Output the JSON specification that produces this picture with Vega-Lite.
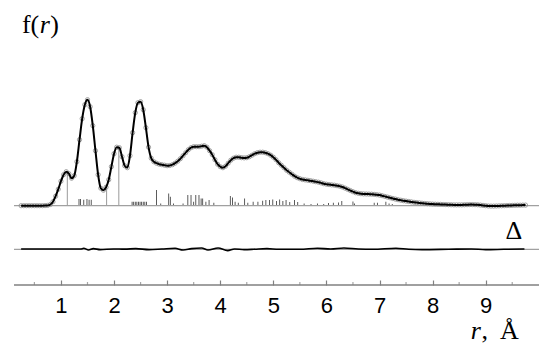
{
  "$schema": "https://vega.github.io/schema/vega-lite/v6.json",
  "width": 525,
  "height": 285,
  "autosize": {"type": "none"},
  "padding": {"left": 14, "right": 11, "top": 0, "bottom": 66},
  "background": "white",
  "config": {"view": {"stroke": null}},
  "datasets": {
    "pdf": [
      {"r":0.25,"f":0},{"r":0.30,"f":0},{"r":0.35,"f":0},{"r":0.40,"f":0},{"r":0.45,"f":0},{"r":0.50,"f":0},{"r":0.55,"f":0},{"r":0.60,"f":0},{"r":0.65,"f":0},{"r":0.70,"f":0.001},{"r":0.75,"f":0.003},{"r":0.80,"f":0.012},{"r":0.85,"f":0.04},{"r":0.90,"f":0.095},{"r":0.95,"f":0.165},{"r":1.00,"f":0.245},{"r":1.05,"f":0.31},{"r":1.10,"f":0.34},{"r":1.15,"f":0.32},{"r":1.20,"f":0.275},{"r":1.25,"f":0.30},{"r":1.30,"f":0.44},{"r":1.35,"f":0.66},{"r":1.40,"f":0.87},{"r":1.45,"f":1.01},{"r":1.50,"f":1.06},{"r":1.55,"f":0.99},{"r":1.60,"f":0.80},{"r":1.65,"f":0.55},{"r":1.70,"f":0.31},{"r":1.75,"f":0.175},{"r":1.80,"f":0.155},{"r":1.85,"f":0.185},{"r":1.90,"f":0.26},{"r":1.95,"f":0.39},{"r":2.00,"f":0.52},{"r":2.05,"f":0.585},{"r":2.10,"f":0.58},{"r":2.15,"f":0.49},{"r":2.20,"f":0.40},{"r":2.25,"f":0.38},{"r":2.30,"f":0.50},{"r":2.35,"f":0.73},{"r":2.40,"f":0.93},{"r":2.45,"f":1.03},{"r":2.50,"f":1.04},{"r":2.55,"f":0.96},{"r":2.60,"f":0.78},{"r":2.65,"f":0.585},{"r":2.70,"f":0.475},{"r":2.75,"f":0.44},{"r":2.80,"f":0.425},{"r":2.85,"f":0.415},{"r":2.90,"f":0.41},{"r":2.95,"f":0.405},{"r":3.00,"f":0.40},{"r":3.05,"f":0.402},{"r":3.10,"f":0.41},{"r":3.15,"f":0.425},{"r":3.20,"f":0.445},{"r":3.25,"f":0.47},{"r":3.30,"f":0.50},{"r":3.35,"f":0.53},{"r":3.40,"f":0.56},{"r":3.45,"f":0.58},{"r":3.50,"f":0.59},{"r":3.55,"f":0.59},{"r":3.60,"f":0.59},{"r":3.65,"f":0.595},{"r":3.70,"f":0.60},{"r":3.75,"f":0.585},{"r":3.80,"f":0.55},{"r":3.85,"f":0.51},{"r":3.90,"f":0.46},{"r":3.95,"f":0.415},{"r":4.00,"f":0.39},{"r":4.05,"f":0.38},{"r":4.10,"f":0.395},{"r":4.15,"f":0.425},{"r":4.20,"f":0.455},{"r":4.25,"f":0.475},{"r":4.30,"f":0.485},{"r":4.35,"f":0.485},{"r":4.40,"f":0.48},{"r":4.45,"f":0.478},{"r":4.50,"f":0.48},{"r":4.55,"f":0.49},{"r":4.60,"f":0.505},{"r":4.65,"f":0.52},{"r":4.70,"f":0.53},{"r":4.75,"f":0.535},{"r":4.80,"f":0.535},{"r":4.85,"f":0.53},{"r":4.90,"f":0.52},{"r":4.95,"f":0.505},{"r":5.00,"f":0.485},{"r":5.05,"f":0.46},{"r":5.10,"f":0.43},{"r":5.15,"f":0.405},{"r":5.20,"f":0.38},{"r":5.25,"f":0.355},{"r":5.30,"f":0.335},{"r":5.35,"f":0.315},{"r":5.40,"f":0.295},{"r":5.45,"f":0.28},{"r":5.50,"f":0.27},{"r":5.55,"f":0.262},{"r":5.60,"f":0.258},{"r":5.65,"f":0.254},{"r":5.70,"f":0.25},{"r":5.75,"f":0.245},{"r":5.80,"f":0.24},{"r":5.85,"f":0.235},{"r":5.90,"f":0.228},{"r":5.95,"f":0.22},{"r":6.00,"f":0.215},{"r":6.05,"f":0.211},{"r":6.10,"f":0.208},{"r":6.15,"f":0.205},{"r":6.20,"f":0.2},{"r":6.25,"f":0.195},{"r":6.30,"f":0.187},{"r":6.35,"f":0.176},{"r":6.40,"f":0.164},{"r":6.45,"f":0.152},{"r":6.50,"f":0.14},{"r":6.55,"f":0.13},{"r":6.60,"f":0.124},{"r":6.65,"f":0.12},{"r":6.70,"f":0.118},{"r":6.75,"f":0.117},{"r":6.80,"f":0.116},{"r":6.85,"f":0.115},{"r":6.90,"f":0.113},{"r":6.95,"f":0.11},{"r":7.00,"f":0.106},{"r":7.05,"f":0.1},{"r":7.10,"f":0.093},{"r":7.15,"f":0.086},{"r":7.20,"f":0.079},{"r":7.25,"f":0.072},{"r":7.30,"f":0.066},{"r":7.35,"f":0.06},{"r":7.40,"f":0.055},{"r":7.45,"f":0.05},{"r":7.50,"f":0.046},{"r":7.55,"f":0.042},{"r":7.60,"f":0.038},{"r":7.65,"f":0.034},{"r":7.70,"f":0.031},{"r":7.75,"f":0.028},{"r":7.80,"f":0.025},{"r":7.85,"f":0.022},{"r":7.90,"f":0.02},{"r":7.95,"f":0.018},{"r":8.00,"f":0.016},{"r":8.05,"f":0.015},{"r":8.10,"f":0.014},{"r":8.15,"f":0.013},{"r":8.20,"f":0.012},{"r":8.25,"f":0.011},{"r":8.30,"f":0.01},{"r":8.35,"f":0.009},{"r":8.40,"f":0.008},{"r":8.45,"f":0.008},{"r":8.50,"f":0.008},{"r":8.55,"f":0.008},{"r":8.60,"f":0.009},{"r":8.65,"f":0.01},{"r":8.70,"f":0.011},{"r":8.75,"f":0.011},{"r":8.80,"f":0.01},{"r":8.85,"f":0.009},{"r":8.90,"f":0.006},{"r":8.95,"f":0.003},{"r":9.00,"f":0.0},{"r":9.05,"f":-0.003},{"r":9.10,"f":-0.004},{"r":9.15,"f":-0.004},{"r":9.20,"f":-0.003},{"r":9.25,"f":-0.002},{"r":9.30,"f":-0.001},{"r":9.35,"f":0},{"r":9.40,"f":0.001},{"r":9.45,"f":0.002},{"r":9.50,"f":0.003},{"r":9.55,"f":0.004},{"r":9.60,"f":0.005},{"r":9.65,"f":0.005},{"r":9.70,"f":0.006},{"r":9.75,"f":0.006}
    ],
    "sticksMajor": [
      {"r":1.12,"h":0.33},{"r":1.86,"h":0.17},{"r":2.09,"h":0.59}
    ],
    "sticksMinor": [
      {"r":1.34,"h":0.067},{"r":1.37,"h":0.067},{"r":1.43,"h":0.06},{"r":1.49,"h":0.067},{"r":1.53,"h":0.06},{"r":1.57,"h":0.06},
      {"r":2.34,"h":0.04},{"r":2.37,"h":0.04},{"r":2.40,"h":0.04},{"r":2.43,"h":0.04},{"r":2.46,"h":0.04},{"r":2.49,"h":0.04},{"r":2.52,"h":0.04},{"r":2.55,"h":0.04},{"r":2.58,"h":0.04},{"r":2.61,"h":0.04},
      {"r":2.80,"h":0.157},{"r":2.88,"h":0.023},{"r":3.03,"h":0.123},{"r":3.06,"h":0.09},{"r":3.12,"h":0.023},{"r":3.30,"h":0.023},{"r":3.39,"h":0.107},{"r":3.45,"h":0.107},{"r":3.50,"h":0.04},{"r":3.54,"h":0.107},{"r":3.60,"h":0.107},{"r":3.64,"h":0.073},{"r":3.67,"h":0.073},{"r":3.73,"h":0.04},{"r":3.79,"h":0.057},{"r":3.88,"h":0.03},
      {"r":4.19,"h":0.097},{"r":4.23,"h":0.083},{"r":4.28,"h":0.04},{"r":4.34,"h":0.03},{"r":4.46,"h":0.073},{"r":4.52,"h":0.03},{"r":4.62,"h":0.04},{"r":4.71,"h":0.04},{"r":4.80,"h":0.05},{"r":4.86,"h":0.057},{"r":4.93,"h":0.057},{"r":4.99,"h":0.063},
      {"r":5.06,"h":0.047},{"r":5.12,"h":0.063},{"r":5.18,"h":0.047},{"r":5.24,"h":0.057},{"r":5.31,"h":0.037},{"r":5.40,"h":0.057},{"r":5.46,"h":0.037},{"r":5.58,"h":0.023},{"r":5.71,"h":0.017},{"r":5.83,"h":0.023},{"r":5.95,"h":0.017},{"r":6.04,"h":0.027},{"r":6.13,"h":0.03},{"r":6.23,"h":0.033},{"r":6.29,"h":0.047},{"r":6.50,"h":0.043},{"r":6.53,"h":0.023},{"r":6.90,"h":0.03},{"r":6.96,"h":0.03},{"r":7.12,"h":0.04},{"r":7.18,"h":0.023},{"r":7.24,"h":0.017}
    ],
    "diff": [
      {"r":0.25,"d":0.003},{"r":0.8,"d":0.003},{"r":1.37,"d":0.003},{"r":1.43,"d":0.01},{"r":1.52,"d":-0.007},{"r":1.61,"d":0.007},{"r":1.74,"d":-0.003},{"r":1.99,"d":0.003},{"r":2.2,"d":0.002},{"r":2.41,"d":0.007},{"r":2.66,"d":-0.003},{"r":2.90,"d":0.003},{"r":3.15,"d":0.01},{"r":3.30,"d":-0.007},{"r":3.46,"d":0.007},{"r":3.65,"d":0.013},{"r":3.77,"d":-0.007},{"r":3.96,"d":0.013},{"r":4.14,"d":-0.013},{"r":4.27,"d":0.003},{"r":4.45,"d":-0.003},{"r":4.63,"d":0.0},{"r":4.88,"d":0.007},{"r":5.1,"d":0.0},{"r":5.5,"d":0.0},{"r":5.83,"d":0.01},{"r":6.08,"d":0.003},{"r":6.33,"d":0.013},{"r":6.6,"d":0.003},{"r":6.88,"d":0.0},{"r":7.31,"d":0.01},{"r":7.55,"d":0.0},{"r":7.8,"d":-0.003},{"r":8.3,"d":0.0},{"r":8.73,"d":0.003},{"r":9.0,"d":-0.003},{"r":9.34,"d":0.0},{"r":9.73,"d":0.003}
    ],
    "minorTicks": [
      {"r":0.5,"base":-0.793},{"r":1.5,"base":-0.793},{"r":2.5,"base":-0.793},{"r":3.5,"base":-0.793},{"r":4.5,"base":-0.793},{"r":5.5,"base":-0.793},{"r":6.5,"base":-0.793},{"r":7.5,"base":-0.793},{"r":8.5,"base":-0.793},{"r":9.5,"base":-0.793}
    ],
    "labels": [
      {"r": 0.265, "f": 1.724, "t": "f("},
      {"r": 0.80, "f": 1.724, "t": ")"},
      {"r": 9.375, "f": -0.333, "t": "Δ"},
      {"r": 8.92, "f": -1.33, "t": ","},
      {"r": 9.27, "f": -1.33, "t": "Å"}
    ],
    "italicLabels": [
      {"r": 0.60, "f": 1.724, "t": "r"},
      {"r": 8.72, "f": -1.33, "t": "r"}
    ]
  },
  "layer": [
    {
      "data": {"name": "sticksMajor"},
      "mark": {"type": "bar", "color": "#9a9a9a", "width": 1},
      "encoding": {
        "x": {"field": "r", "type": "quantitative", "scale": {"domain": [0.21, 9.91], "nice": false, "zero": false},
          "axis": {"values": [1,2,3,4,5,6,7,8,9], "format": "d", "title": null, "grid": false, "domain": false, "offset": -5, "tickColor": "#808080", "tickWidth": 1.2, "tickSize": 5,
            "labelFont": "Liberation Sans", "labelFontSize": 22, "labelColor": "#000000", "labelPadding": 10, "labelOverlap": false}},
        "y": {"field": "h", "type": "quantitative", "scale": {"domain": [-0.793, 2.057], "nice": false, "zero": false}, "axis": null}
      }
    },
    {
      "data": {"name": "sticksMinor"},
      "mark": {"type": "bar", "color": "#333333", "width": 0.8},
      "encoding": {
        "x": {"field": "r", "type": "quantitative", "scale": {"domain": [0.21, 9.91], "nice": false, "zero": false}},
        "y": {"field": "h", "type": "quantitative", "scale": {"domain": [-0.793, 2.057], "nice": false, "zero": false}}
      }
    },
    {
      "data": {"values": [{"base": 0}, {"base": -0.436}]},
      "mark": {"type": "rule", "color": "#a0a0a0", "strokeWidth": 1.3},
      "encoding": {"y": {"field": "base", "type": "quantitative", "scale": {"domain": [-0.793, 2.057], "nice": false, "zero": false}}}
    },
    {
      "data": {"values": [{"base": -0.793}]},
      "mark": {"type": "rule", "color": "#808080", "strokeWidth": 1.5},
      "encoding": {"y": {"field": "base", "type": "quantitative", "scale": {"domain": [-0.793, 2.057], "nice": false, "zero": false}}}
    },
    {
      "data": {"name": "minorTicks"},
      "mark": {"type": "tick", "orient": "vertical", "color": "#808080", "size": 3, "thickness": 1.2, "yOffset": -1.5},
      "encoding": {
        "x": {"field": "r", "type": "quantitative", "scale": {"domain": [0.21, 9.91], "nice": false, "zero": false}},
        "y": {"field": "base", "type": "quantitative", "scale": {"domain": [-0.793, 2.057], "nice": false, "zero": false}}
      }
    },
    {
      "data": {"name": "pdf"},
      "mark": {"type": "point", "shape": "circle", "filled": false, "size": 18, "stroke": "#8a8a8a", "strokeWidth": 0.8, "opacity": 1},
      "encoding": {
        "x": {"field": "r", "type": "quantitative", "scale": {"domain": [0.21, 9.91], "nice": false, "zero": false}},
        "y": {"field": "f", "type": "quantitative", "scale": {"domain": [-0.793, 2.057], "nice": false, "zero": false}}
      }
    },
    {
      "data": {"name": "pdf"},
      "mark": {"type": "line", "color": "#000000", "strokeWidth": 2, "interpolate": "monotone"},
      "encoding": {
        "x": {"field": "r", "type": "quantitative", "scale": {"domain": [0.21, 9.91], "nice": false, "zero": false}},
        "y": {"field": "f", "type": "quantitative", "scale": {"domain": [-0.793, 2.057], "nice": false, "zero": false}}
      }
    },
    {
      "data": {"name": "diff"},
      "mark": {"type": "line", "color": "#000000", "strokeWidth": 1.6, "interpolate": "monotone", "yOffset": 43.6},
      "encoding": {
        "x": {"field": "r", "type": "quantitative", "scale": {"domain": [0.21, 9.91], "nice": false, "zero": false}},
        "y": {"field": "d", "type": "quantitative", "scale": {"domain": [-0.793, 2.057], "nice": false, "zero": false}}
      }
    },
    {
      "data": {"name": "labels"},
      "mark": {"type": "text", "font": "Liberation Serif", "fontSize": 26, "align": "left", "baseline": "alphabetic", "color": "#000000"},
      "encoding": {
        "x": {"field": "r", "type": "quantitative", "scale": {"domain": [0.21, 9.91], "nice": false, "zero": false}},
        "y": {"field": "f", "type": "quantitative", "scale": {"domain": [-0.793, 2.057], "nice": false, "zero": false}},
        "text": {"field": "t"}
      }
    },
    {
      "data": {"name": "italicLabels"},
      "mark": {"type": "text", "font": "Liberation Serif", "fontStyle": "italic", "fontSize": 26, "align": "left", "baseline": "alphabetic", "color": "#000000"},
      "encoding": {
        "x": {"field": "r", "type": "quantitative", "scale": {"domain": [0.21, 9.91], "nice": false, "zero": false}},
        "y": {"field": "f", "type": "quantitative", "scale": {"domain": [-0.793, 2.057], "nice": false, "zero": false}},
        "text": {"field": "t"}
      }
    }
  ]
}
